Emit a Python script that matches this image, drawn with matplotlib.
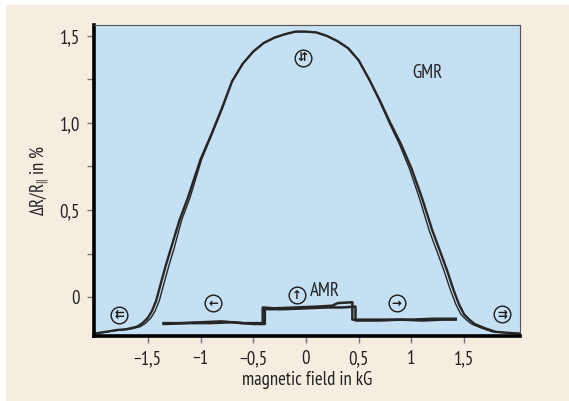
import matplotlib
matplotlib.use("Agg")
import matplotlib.pyplot as plt
from matplotlib.patches import Rectangle
from matplotlib.ticker import FixedLocator, FixedFormatter

plt.rcParams['font.family'] = ['PT Sans Narrow', 'DejaVu Sans']
plt.rcParams['mathtext.fontset'] = 'custom'
plt.rcParams['mathtext.rm'] = 'PT Sans Narrow'
plt.rcParams['mathtext.it'] = 'PT Sans Narrow:italic'

# GMR: two sweeps (nearly coincide)
gmr_field_a = [-2.0, -1.9, -1.8, -1.7, -1.6, -1.55, -1.5, -1.46, -1.42, -1.38, -1.33,
               -1.28, -1.2, -1.12, -1.0, -0.9, -0.8, -0.7, -0.6, -0.5, -0.4, -0.3,
               -0.2, -0.1, 0.0, 0.1, 0.2, 0.3, 0.4, 0.5, 0.6, 0.7, 0.8, 0.9, 1.0,
               1.1, 1.2, 1.28, 1.34, 1.4, 1.45, 1.5, 1.55, 1.6, 1.7, 1.8, 1.9, 2.03]
gmr_field_b = [-2.0, -1.88, -1.77, -1.67, -1.57, -1.52, -1.47, -1.43, -1.39, -1.35, -1.30,
               -1.25, -1.18, -1.10, -0.99, -0.895, -0.795, -0.7, -0.6, -0.5, -0.4, -0.3,
               -0.2, -0.1, 0.0, 0.1, 0.2, 0.3, 0.4, 0.5, 0.6, 0.695, 0.79, 0.885, 0.98,
               1.075, 1.17, 1.25, 1.31, 1.37, 1.42, 1.47, 1.52, 1.57, 1.67, 1.77, 1.88, 2.03]
gmr_values = [-0.21, -0.20, -0.19, -0.185, -0.17, -0.15, -0.12, -0.08, -0.02, 0.07, 0.18,
              0.28, 0.44, 0.57, 0.79, 0.93, 1.08, 1.24, 1.34, 1.41, 1.46, 1.49,
              1.51, 1.525, 1.525, 1.52, 1.50, 1.47, 1.43, 1.36, 1.25, 1.13, 1.00, 0.88, 0.74,
              0.57, 0.38, 0.25, 0.15, 0.04, -0.04, -0.10, -0.13, -0.155, -0.18, -0.20, -0.205, -0.21]

# AMR: two sweeps
amr_field_a = [-1.35, -1.2, -1.0, -0.8, -0.6, -0.41, -0.41, -0.3, -0.1, 0.1, 0.25,
               0.3, 0.44, 0.44, 0.6, 0.8, 1.0, 1.2, 1.42]
amr_a = [-0.15, -0.15, -0.145, -0.14, -0.15, -0.15, -0.06, -0.065, -0.06, -0.055, -0.05,
         -0.035, -0.03, -0.13, -0.13, -0.13, -0.13, -0.125, -0.125]
amr_field_b = [-1.35, -1.1, -0.9, -0.7, -0.5, -0.39, -0.39, -0.2, 0.0, 0.2, 0.35,
               0.47, 0.47, 0.7, 0.9, 1.1, 1.3, 1.42]
amr_b = [-0.155, -0.15, -0.15, -0.145, -0.155, -0.155, -0.07, -0.07, -0.065, -0.06, -0.06,
         -0.055, -0.135, -0.135, -0.13, -0.135, -0.13, -0.13]

# circled magnetisation symbols
sym_x = [-1.77, -0.88, -0.085, 0.86, 1.86, -0.03]
sym_y = [-0.103, -0.035, 0.01, -0.035, -0.10, 1.374]
sym_text = ['\u21c7', '\u2190', '\u2191', '\u2192', '\u21c9', '\u21f5']

xticks = [-1.5, -1, -0.5, 0, 0.5, 1, 1.5]
xtick_labels = ['\u22121,5', '\u22121', '\u22120,5', '0', '0,5', '1', '1,5']
yticks = [0, 0.5, 1.0, 1.5]
ytick_labels = ['0', '0,5', '1,0', '1,5']
yminor = [0.25, 0.75, 1.25]

fig = plt.figure(figsize=(5.69, 4.01), dpi=100, facecolor='white')
fig.patches.append(Rectangle((6 / 569, 0), 1, 1 - 5 / 401, transform=fig.transFigure,
                             facecolor='#f6ede1', edgecolor='none', zorder=-10))
ax = fig.add_axes([94 / 569, 1 - 336 / 401, 426 / 569, 311 / 401])
ax.set_facecolor('#c6e0f3')

line_col = '#262626'
ax.plot(gmr_field_a, gmr_values, color=line_col, lw=1.7)
ax.plot(gmr_field_b, gmr_values, color=line_col, lw=1.0)
ax.plot(amr_field_a, amr_a, color=line_col, lw=1.8)
ax.plot(amr_field_b, amr_b, color=line_col, lw=1.8)

ax.plot(sym_x, sym_y, 'o', ms=12, mfc='none', mec='#1a1a1a', mew=1.0)
for x, y, s in zip(sym_x, sym_y, sym_text):
    ax.text(x, y, s, ha='center', va='center', fontsize=8.5, fontweight='bold',
            family='DejaVu Sans', color='#1a1a1a')

fs = 13.5
ax.text(0.04, 0.035, 'AMR', ha='left', va='center', fontsize=fs, color='#222222')
ax.text(1.15, 1.29, 'GMR', ha='center', va='center', fontsize=fs, color='#222222')

ax.set_xlim(-2.01, 2.03)
ax.set_ylim(-0.224, 1.563)

ax.xaxis.set_major_locator(FixedLocator(xticks))
ax.xaxis.set_major_formatter(FixedFormatter(xtick_labels))
ax.yaxis.set_major_locator(FixedLocator(yticks))
ax.yaxis.set_major_formatter(FixedFormatter(ytick_labels))
ax.yaxis.set_minor_locator(FixedLocator(yminor))

ax.tick_params(axis='both', which='both', direction='out', length=5, width=1,
               color='#777777', labelsize=fs, labelcolor='#222222', pad=5)

for side in ['left', 'bottom']:
    ax.spines[side].set_linewidth(2.6)
    ax.spines[side].set_color('black')
for side in ['top', 'right']:
    ax.spines[side].set_linewidth(0.8)
    ax.spines[side].set_color('#555555')

ax.set_xlabel('magnetic field in kG', fontsize=fs, color='#222222', labelpad=2)
ax.set_ylabel(r'$\Delta R/R_{||}$ in %', fontsize=fs, color='#222222', labelpad=6)

fig.savefig('out.png', dpi=100, facecolor=fig.get_facecolor())
